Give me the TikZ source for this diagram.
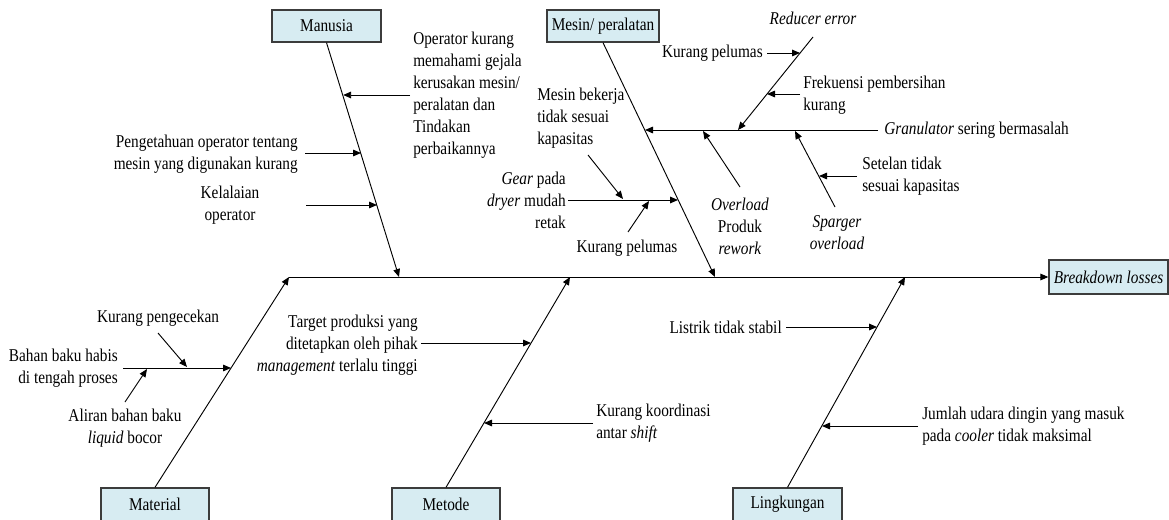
\documentclass[tikz,border=0pt]{standalone}
\usepackage{fontspec}
\setmainfont{Liberation Serif}[FakeStretch=0.85]
\usetikzlibrary{arrows.meta}
\definecolor{boxfill}{RGB}{215,236,242}
\definecolor{boxline}{RGB}{60,60,60}
\begin{document}
\begin{tikzpicture}[x=0.75pt,y=-0.75pt,
  every node/.style={font=\fontsize{13.5}{16.5}\selectfont},
  box/.style={draw=boxline,line width=1pt,fill=boxfill,minimum height=24pt,inner sep=0pt},
  lbl/.style={inner sep=0pt},
  bone/.style={line width=0.7pt,-{Triangle[length=6pt,width=5pt]}},
  twig/.style={line width=0.7pt,-{Triangle[length=6pt,width=5pt]}}
  ]
\useasboundingbox (0,0) rectangle (1169,520);

% category boxes
\node[box,minimum width=81.75pt] (man) at (326.5,26) {Manusia};
\node[box,minimum width=84pt] (mes) at (603,26) {Mesin/ peralatan};
\node[box,minimum width=89.25pt,minimum height=25.5pt] (bd) at (1108.5,277) {\textit{Breakdown losses}};
\node[box,minimum width=81pt,minimum height=24.75pt] (mat) at (155,504.5) {Material};
\node[box,minimum width=81pt,minimum height=24.75pt] (met) at (446,504.5) {Metode};
\node[box,minimum width=81.75pt,minimum height=24.75pt] (lin) at (787.5,504.5) {Lingkungan};

% spine and main bones
\coordinate (sp0) at (289,277);
\coordinate (cMan) at (399,277);
\coordinate (cMes) at (715,277);
\coordinate (cMet) at (570,277);
\coordinate (cLin) at (905,277);
\draw[bone] (sp0) -- (bd.west);
\draw[bone] (mat.north) -- (sp0);
\draw[bone] (man.south) -- (cMan);
\draw[bone] (mes.south) -- (cMes);
\draw[bone] (met.north) -- (cMet);
\draw[bone] (lin.north) -- (cLin);

% ---- Manusia
\node[lbl,anchor=west,align=left] (tOp) at (413,95) {Operator kurang\\memahami gejala\\kerusakan mesin/\\peralatan dan\\Tindakan\\perbaikannya};
\node[lbl,anchor=east,align=right] (tPeng) at (298,154) {Pengetahuan operator tentang\\mesin yang digunakan kurang};
\node[lbl,align=center] (tKel) at (230,205) {Kelalaian\\operator};
\coordinate (aOp0) at (410,95);  \coordinate (aOp1) at (343.2,95);
\coordinate (aPe0) at (305,153); \coordinate (aPe1) at (361,153);
\coordinate (aKe0) at (306,205); \coordinate (aKe1) at (377,205);
\draw[twig] (aOp0) -- (aOp1);
\draw[twig] (aPe0) -- (aPe1);
\draw[twig] (aKe0) -- (aKe1);

% ---- Mesin / peralatan
\node[lbl,anchor=west,align=left] (tBek) at (537,118) {Mesin bekerja\\tidak sesuai\\kapasitas};
\node[lbl,anchor=east,align=right] (tGear) at (566,200) {\textit{Gear} pada\\\textit{dryer} mudah\\retak};
\node[lbl] (tKP2) at (627,248) {Kurang pelumas};
\node[lbl,align=center] (tOver) at (740,226) {\textit{Overload}\\Produk\\\textit{rework}};
\node[lbl] (tRed) at (813,18) {\textit{Reducer error}};
\node[lbl,anchor=east] (tKP1) at (763,53) {Kurang pelumas};
\node[lbl,anchor=west,align=left] (tFrek) at (803,95) {Frekuensi pembersihan\\kurang};
\node[lbl,anchor=west] (tGran) at (884,130) {\textit{Granulator} sering bermasalah};
\node[lbl,anchor=west,align=left] (tSet) at (862,176) {Setelan tidak\\sesuai kapasitas};
\node[lbl,align=center] (tSpa) at (837,233) {\textit{Sparger}\\\textit{overload}};

\coordinate (gr0) at (878,130);  \coordinate (gr1) at (645,130);
\draw[twig] (gr0) -- (gr1);
\coordinate (rd0) at (813,37);   \coordinate (rd1) at (738,130);
\draw[twig] (rd0) -- (rd1);
\coordinate (kp10) at (767,53);  \coordinate (kp11) at (800,53);
\draw[twig] (kp10) -- (kp11);
\coordinate (fr0) at (800,94);   \coordinate (fr1) at (767,94);
\draw[twig] (fr0) -- (fr1);
\coordinate (sg0) at (835,207);  \coordinate (sg1) at (795,131);
\draw[twig] (sg0) -- (sg1);
\coordinate (se0) at (857,176);  \coordinate (se1) at (819,176);
\draw[twig] (se0) -- (se1);
\coordinate (ov0) at (740,187);  \coordinate (ov1) at (703,131);
\draw[twig] (ov0) -- (ov1);
\coordinate (ge0) at (568,200);  \coordinate (ge1) at (678,200);
\draw[twig] (ge0) -- (ge1);
\coordinate (bk0) at (588,155);  \coordinate (bk1) at (623,199);
\draw[twig] (bk0) -- (bk1);
\coordinate (kp20) at (628,232); \coordinate (kp21) at (649,201);
\draw[twig] (kp20) -- (kp21);

% ---- Material
\node[lbl] (tKPeng) at (158,318) {Kurang pengecekan};
\node[lbl,anchor=east,align=right] (tBahan) at (118,368) {Bahan baku habis\\di tengah proses};
\node[lbl,align=center] (tAli) at (125,428) {Aliran bahan baku\\\textit{liquid} bocor};
\coordinate (ba0) at (123,368);  \coordinate (ba1) at (231,368);
\draw[twig] (ba0) -- (ba1);
\coordinate (kpe0) at (158,333); \coordinate (kpe1) at (187,367);
\draw[twig] (kpe0) -- (kpe1);
\coordinate (al0) at (125,402);  \coordinate (al1) at (147,369);
\draw[twig] (al0) -- (al1);

% ---- Metode
\node[lbl,anchor=east,align=right] (tTar) at (418,345) {Target produksi yang\\ditetapkan oleh pihak\\\textit{management} terlalu tinggi};
\node[lbl,anchor=west,align=left] (tKoo) at (596,423) {Kurang koordinasi\\antar \textit{shift}};
\coordinate (ta0) at (421,343);  \coordinate (ta1) at (531,343);
\draw[twig] (ta0) -- (ta1);
\coordinate (ko0) at (593,423);  \coordinate (ko1) at (484,423);
\draw[twig] (ko0) -- (ko1);

% ---- Lingkungan
\node[lbl,anchor=east] (tLis) at (782,327) {Listrik tidak stabil};
\node[lbl,anchor=west,align=left] (tJum) at (922,426) {Jumlah udara dingin yang masuk\\pada \textit{cooler} tidak maksimal};
\coordinate (li0) at (786,327);  \coordinate (li1) at (877,327);
\draw[twig] (li0) -- (li1);
\coordinate (ju0) at (918,426);  \coordinate (ju1) at (822,426);
\draw[twig] (ju0) -- (ju1);
\end{tikzpicture}
\end{document}
